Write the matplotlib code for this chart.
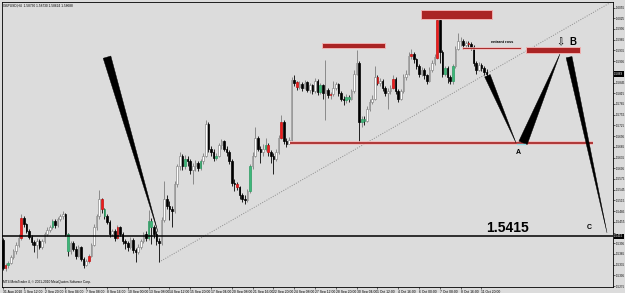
import matplotlib
matplotlib.use("Agg")
import matplotlib.pyplot as plt
from matplotlib.patches import Polygon, Rectangle
from matplotlib.transforms import IdentityTransform, blended_transform_factory
import numpy as np

plt.rcParams['font.family'] = ['Liberation Sans', 'DejaVu Sans']

# GBPUSD H4 candles (open = previous close)
first_open = 1.5404
closes = [
    1.5326, 1.5334, 1.5340, 1.5355, 1.5372, 1.5390, 1.5410, 1.5466, 1.5448, 1.5430,
    1.5412, 1.5398, 1.5390, 1.5402, 1.5385, 1.5400, 1.5420, 1.5432, 1.5440, 1.5456,
    1.5445, 1.5462, 1.5470, 1.5476, 1.5420, 1.5372, 1.5395, 1.5380, 1.5360, 1.5384,
    1.5350, 1.5335, 1.5345, 1.5360, 1.5390, 1.5440, 1.5470, 1.5518, 1.5490, 1.5470,
    1.5455, 1.5420, 1.5430, 1.5410, 1.5440, 1.5420, 1.5400, 1.5395, 1.5385, 1.5405,
    1.5375, 1.5370, 1.5385, 1.5400, 1.5420, 1.5410, 1.5458, 1.5440, 1.5420, 1.5400,
    1.5395, 1.5460, 1.5520, 1.5500, 1.5490, 1.5485, 1.5560, 1.5610, 1.5640, 1.5610,
    1.5630, 1.5625, 1.5600, 1.5610, 1.5620, 1.5605, 1.5625, 1.5640, 1.5730, 1.5660,
    1.5650, 1.5635, 1.5640, 1.5670, 1.5680, 1.5660, 1.5650, 1.5625, 1.5564, 1.5560,
    1.5552, 1.5530, 1.5520, 1.5515, 1.5540, 1.5610, 1.5640, 1.5690, 1.5660, 1.5650,
    1.5660, 1.5670, 1.5650, 1.5640, 1.5630, 1.5650, 1.5690, 1.5735, 1.5680, 1.5672,
    1.5685, 1.5852, 1.5845, 1.5832, 1.5840, 1.5830, 1.5845, 1.5825, 1.5838, 1.5820,
    1.5850, 1.5818, 1.5838, 1.5815, 1.5825, 1.5810, 1.5812, 1.5830, 1.5840, 1.5815,
    1.5800, 1.5795, 1.5805, 1.5800, 1.5820, 1.5870, 1.5900, 1.5735, 1.5742, 1.5738,
    1.5770, 1.5790, 1.5800, 1.5860, 1.5845, 1.5850, 1.5830, 1.5815, 1.5822, 1.5830,
    1.5856, 1.5820, 1.5800, 1.5820, 1.5860, 1.5870, 1.5920, 1.5925, 1.5910, 1.5890,
    1.5870, 1.5880, 1.5865, 1.5850, 1.5880, 1.5900, 1.5915, 1.6020, 1.5930, 1.5870,
    1.5885, 1.5860, 1.5850, 1.5890, 1.5940, 1.5960, 1.5960, 1.5950, 1.5955, 1.5952,
    1.5945, 1.5900, 1.5880, 1.5895, 1.5885, 1.5875, 1.58688,
]
highs = [
    1.5410, 1.5340, 1.5346, 1.5362, 1.5380, 1.5398, 1.5420, 1.5478, 1.5470, 1.5452,
    1.5436, 1.5418, 1.5404, 1.5410, 1.5408, 1.5406, 1.5426, 1.5440, 1.5446, 1.5462,
    1.5462, 1.5468, 1.5476, 1.5484, 1.5480, 1.5424, 1.5402, 1.5400, 1.5386, 1.5390,
    1.5388, 1.5356, 1.5352, 1.5366, 1.5396, 1.5448, 1.5478, 1.5544, 1.5522, 1.5494,
    1.5476, 1.5460, 1.5436, 1.5434, 1.5446, 1.5444, 1.5426, 1.5408, 1.5400, 1.5412,
    1.5410, 1.5382, 1.5392, 1.5406, 1.5426, 1.5428, 1.5488, 1.5466, 1.5446, 1.5428,
    1.5410, 1.5468, 1.5570, 1.5530, 1.5512, 1.5500, 1.5568, 1.5618, 1.5650, 1.5646,
    1.5642, 1.5638, 1.5630, 1.5620, 1.5628, 1.5626, 1.5632, 1.5648, 1.5740, 1.5734,
    1.5668, 1.5658, 1.5648, 1.5676, 1.5688, 1.5684, 1.5666, 1.5656, 1.5630, 1.5574,
    1.5566, 1.5556, 1.5536, 1.5530, 1.5548, 1.5618, 1.5650, 1.5720, 1.5696, 1.5668,
    1.5672, 1.5690, 1.5676, 1.5656, 1.5648, 1.5658, 1.5698, 1.5754, 1.5740, 1.5690,
    1.5692, 1.5860, 1.5866, 1.5850, 1.5848, 1.5846, 1.5852, 1.5850, 1.5844, 1.5842,
    1.5858, 1.5854, 1.5844, 1.5842, 1.5908, 1.5830, 1.5818, 1.5850, 1.5846, 1.5844,
    1.5820, 1.5808, 1.5812, 1.5810, 1.5828, 1.5880, 1.5936, 1.5906, 1.5750, 1.5752,
    1.5778, 1.5798, 1.5810, 1.5890, 1.5866, 1.5858, 1.5854, 1.5836, 1.5830, 1.5838,
    1.5865, 1.5860, 1.5826, 1.5828, 1.5868, 1.5880, 1.5930, 1.5940, 1.5930, 1.5914,
    1.5896, 1.5888, 1.5886, 1.5870, 1.5888, 1.5908, 1.5924, 1.6034, 1.6024, 1.5936,
    1.5892, 1.5890, 1.5866, 1.5898, 1.5948, 1.5984, 1.5972, 1.5966, 1.5962, 1.5960,
    1.5958, 1.5950, 1.5906, 1.5902, 1.5900, 1.5892, 1.5882,
]
lows = [
    1.5320, 1.5318, 1.5326, 1.5336, 1.5350, 1.5366, 1.5384, 1.5404, 1.5440, 1.5424,
    1.5406, 1.5390, 1.5370, 1.5354, 1.5378, 1.5380, 1.5396, 1.5414, 1.5426, 1.5436,
    1.5438, 1.5440, 1.5456, 1.5462, 1.5414, 1.5360, 1.5366, 1.5372, 1.5352, 1.5356,
    1.5344, 1.5325, 1.5330, 1.5340, 1.5356, 1.5386, 1.5432, 1.5464, 1.5480, 1.5462,
    1.5448, 1.5412, 1.5414, 1.5402, 1.5406, 1.5414, 1.5392, 1.5380, 1.5374, 1.5380,
    1.5368, 1.5342, 1.5364, 1.5380, 1.5396, 1.5402, 1.5404, 1.5392, 1.5410, 1.5390,
    1.5342, 1.5390, 1.5455, 1.5490, 1.5460, 1.5440, 1.5480, 1.5552, 1.5600, 1.5600,
    1.5604, 1.5610, 1.5590, 1.5560, 1.5598, 1.5596, 1.5600, 1.5618, 1.5636, 1.5650,
    1.5640, 1.5626, 1.5628, 1.5636, 1.5660, 1.5652, 1.5640, 1.5618, 1.5556, 1.5540,
    1.5544, 1.5520, 1.5510, 1.5506, 1.5510, 1.5536, 1.5604, 1.5636, 1.5652, 1.5620,
    1.5640, 1.5652, 1.5640, 1.5620, 1.5590, 1.5624, 1.5644, 1.5686, 1.5674, 1.5664,
    1.5676, 1.5680, 1.5836, 1.5824, 1.5826, 1.5820, 1.5826, 1.5818, 1.5816, 1.5812,
    1.5816, 1.5810, 1.5812, 1.5800, 1.5740, 1.5802, 1.5800, 1.5806, 1.5824, 1.5808,
    1.5792, 1.5782, 1.5788, 1.5790, 1.5796, 1.5816, 1.5866, 1.5676, 1.5720, 1.5726,
    1.5734, 1.5764, 1.5786, 1.5796, 1.5838, 1.5836, 1.5822, 1.5806, 1.5770, 1.5814,
    1.5826, 1.5812, 1.5790, 1.5796, 1.5816, 1.5852, 1.5866, 1.5910, 1.5900, 1.5882,
    1.5860, 1.5864, 1.5856, 1.5842, 1.5846, 1.5874, 1.5894, 1.5910, 1.5900, 1.5860,
    1.5864, 1.5845, 1.5842, 1.5842, 1.5886, 1.5936, 1.5948, 1.5940, 1.5942, 1.5944,
    1.5936, 1.5892, 1.5870, 1.5878, 1.5876, 1.5866, 1.5860,
]
# candles painted red / green by the chart's indicator
red_bars = [1, 7, 33, 38, 44, 90, 102, 107, 113, 126, 144, 150, 157, 167, 179]
green_bars = [2, 19, 25, 39, 56, 57, 70, 76, 82, 95, 101, 122, 132, 133, 138, 139, 170, 173]

time_labels = ["31 Aug 2010", "1 Sep 12:00", "2 Sep 20:00", "6 Sep 04:00", "7 Sep 08:00",
               "8 Sep 16:00", "10 Sep 00:00", "13 Sep 08:00", "14 Sep 12:00", "15 Sep 20:00",
               "17 Sep 04:00", "20 Sep 08:00", "21 Sep 16:00", "22 Sep 20:00", "24 Sep 08:00",
               "27 Sep 12:00", "28 Sep 20:00", "30 Sep 04:00", "1 Oct 12:00", "4 Oct 16:00",
               "6 Oct 00:00", "7 Oct 08:00", "8 Oct 16:00", "11 Oct 20:00"]
bars_per_label = 8
price_ticks = [1.5275, 1.5305, 1.5335, 1.5365, 1.5395, 1.5425, 1.5455, 1.5485, 1.5515,
               1.5545, 1.5575, 1.5605, 1.5635, 1.5665, 1.5695, 1.5725, 1.5755, 1.5785,
               1.5815, 1.5845, 1.5875, 1.5905, 1.5935, 1.5965, 1.5995, 1.6025, 1.6055]

# analysis drawn on the chart
level_c = 1.5415
level_a = 1.5676
level_a_bars = (110.4, 227.0)
zones = [(122.7, 146.9, 1.5942, 1.5956), (160.8, 188.0, 1.6023, 1.6048), (201.0, 222.0, 1.5928, 1.5944)]
entry_line = (177.0, 199.0, 1.5942)
trend_pts = [(60.0, 1.5342), (234.6, 1.6073)]
# legs: wide end (bar, price), tip (bar, price), wide-end width in px
legs = [((40.0, 1.5916), (59.6, 1.5426), 8),
        ((186.3, 1.5864), (197.3, 1.5676), 6),
        ((200.0, 1.5676), (214.2, 1.5925), 9),
        ((217.7, 1.5916), (232.3, 1.5424), 6)]

bg = '#dcdcdc'
fig = plt.figure(figsize=(6.25, 2.93), dpi=100, facecolor=bg)
ax = fig.add_axes([2 / 625, 6 / 293, 611 / 625, 285 / 293], facecolor=bg)
ax.set_xlim(-0.385, 234.6)
ax.set_ylim(1.52724, 1.60704)

n = len(closes)
x = np.arange(n)
c = np.array(closes)
o = np.concatenate([[first_open], c[:-1]])
h = np.maximum(np.array(highs), np.maximum(o, c))
l = np.minimum(np.array(lows), np.minimum(o, c))
up = c >= o

face = np.where(up, 'white', 'black').astype(object)
edge = np.where(up, '#8a8a8a', 'black').astype(object)
for i in red_bars:
    face[i] = '#ee1c1c'
    edge[i] = '#c01010'
for i in green_bars:
    face[i] = '#3db87a'
    edge[i] = '#2c9a62'
wick = np.where(up, '#8a8a8a', '#202020')

ax.vlines(x, l, h, colors=wick, lw=0.7, zorder=2)
bottoms = np.minimum(o, c)
heights = np.maximum(np.abs(c - o), 0.00025)
ax.bar(x, heights, bottom=bottoms, width=0.62, color=list(face), edgecolor=list(edge),
       linewidth=0.5, zorder=3)

# trend line and levels
ax.plot([p[0] for p in trend_pts], [p[1] for p in trend_pts], color='#8c8c8c',
        lw=0.7, ls=(0, (1, 1.5)), zorder=1)
ax.axhline(level_c, color='black', lw=1.1, zorder=4)
ax.plot(level_a_bars, [level_a, level_a], color='#f2b8b8', lw=2.6, zorder=4, solid_capstyle='butt')
ax.plot(level_a_bars, [level_a, level_a], color='#9c1414', lw=1.1, zorder=4, solid_capstyle='butt')
ax.plot(entry_line[:2], [entry_line[2]] * 2, color='#f2b8b8', lw=1.8, zorder=4)
ax.plot(entry_line[:2], [entry_line[2]] * 2, color='#9c1414', lw=0.6, zorder=4)
for x0, x1, p0, p1 in zones:
    ax.add_patch(Rectangle((x0, p0), x1 - x0, p1 - p0, facecolor='#aa2424',
                           edgecolor='#f0b0b0', lw=0.7, zorder=5))

# tapered legs of the pattern, drawn in pixels
for (a, b, w) in legs:
    pa = ax.transData.transform(a)
    pb = ax.transData.transform(b)
    d = pb - pa
    nrm = np.array([-d[1], d[0]]) / np.hypot(d[0], d[1])
    poly = Polygon([pa + nrm * w / 2, pa - nrm * w / 2, pb], closed=True,
                   transform=IdentityTransform(), facecolor='black', edgecolor='black',
                   lw=0.3, zorder=6)
    ax.add_patch(poly)
ax.plot([197.8, 200.8], [level_a - 0.0002] * 2, color='#8fdde6', lw=1.0, zorder=7)

ax.text(198.1, 1.5650, 'A', fontsize=5, fontweight='bold', ha='center', va='center', zorder=8)
ax.text(219.2, 1.5958, 'B', fontsize=7, fontweight='bold', ha='center', va='center', zorder=8)
ax.text(214.2, 1.5958, '\u21e9', fontsize=7, family=['DejaVu Sans'], ha='center', va='center', zorder=8)
ax.text(225.6, 1.5439, 'C', fontsize=5, fontweight='bold', ha='center', va='center', zorder=8)
ax.text(194.2, 1.5438, '1.5415', fontsize=10, fontweight='bold', ha='center', va='center', zorder=8)
ax.text(192.0, 1.5958, 'entrant ross', fontsize=2.8, fontweight='bold', ha='center', va='center', zorder=8)

ax.text(0.002, 0.995, 'GBPUSD,H4  1.58730 1.58730 1.58624 1.58688', transform=ax.transAxes,
        fontsize=2.3, ha='left', va='top')
ax.text(0.002, 0.012, 'MT4 MetaTrader 4, \u00a9 2001-2010 MetaQuotes Software Corp.',
        transform=ax.transAxes, fontsize=2.3, ha='left', va='bottom')

# axes in MetaTrader style
tr = blended_transform_factory(ax.transAxes, ax.transData)
marked = (level_c, closes[-1])
ax.yaxis.tick_right()
# tick labels hidden where the marked price boxes sit on the scale
ax.set_yticks(price_ticks, ['' if min(abs(p - m) for m in marked) < 0.0012 else f'{p:.4f}'
                            for p in price_ticks])
ax.set_xticks(np.arange(len(time_labels)) * bars_per_label, time_labels, ha='left')
ax.tick_params(axis='y', length=1.2, width=0.4, pad=0.5, labelsize=2.2)
ax.tick_params(axis='x', length=1.5, width=0.4, pad=0.4, labelsize=2.4)
for s in ax.spines.values():
    s.set_linewidth(0.6)

for p in marked:
    ax.text(1.002, p, f'{p:.4f}', transform=tr, fontsize=2.2, color='white', ha='left',
            va='center', clip_on=False, zorder=9,
            bbox=dict(facecolor='black', edgecolor='none', pad=0.4))

fig.savefig('out.png', dpi=100, facecolor=bg)
